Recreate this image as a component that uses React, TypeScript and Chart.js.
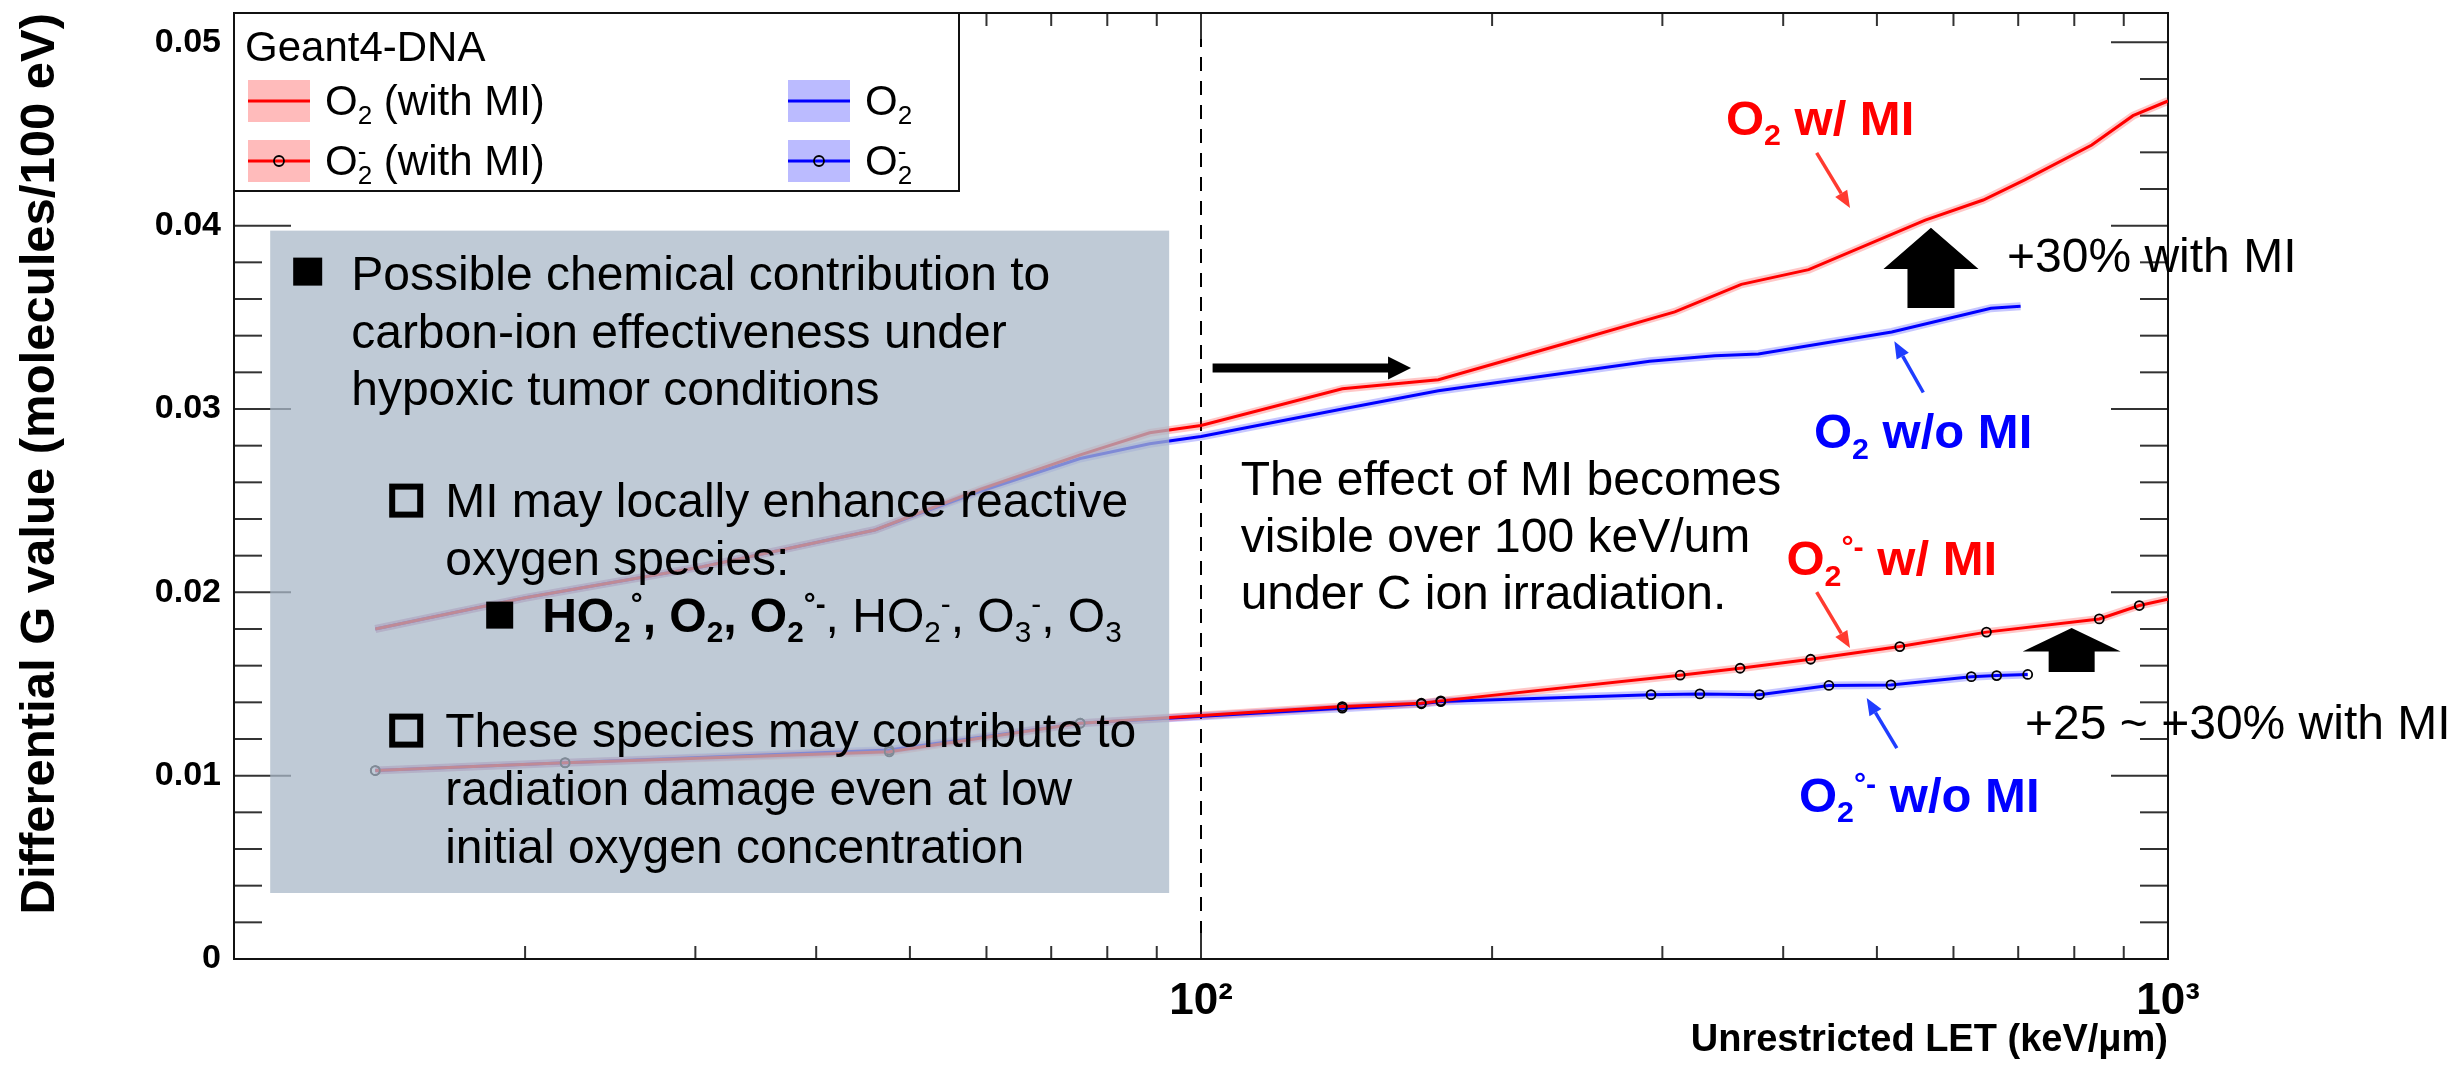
import { useEffect, useRef } from "react";
import { Chart, registerables } from "chart.js";

Chart.register(...registerables);

const FONT = '"Liberation Sans", Arial, Helvetica, sans-serif';
Chart.defaults.font.family = FONT;

// ---------------- axis ranges ----------------
const X_MIN = 10;
const X_MAX = 1000;
const Y_MIN = 0;
const Y_MAX = 0.0516;
const Y_MAJOR_STEP = 0.01;
const Y_MINOR_STEP = 0.002;
const X_TICK_LABELS: Record<number, string> = { 100: "10²", 1000: "10³" };
const X_TITLE = "Unrestricted LET (keV/μm)";
const Y_TITLE = "Differential G value (molecules/100 eV)";
const DASH_LET = 100;

// ---------------- data (LET in keV/um, G in molecules/100 eV) ----------------
// O2 (with MI)
const O2_MI_LET = [14, 20, 30.5, 46, 59, 75, 88.5, 100, 140, 176, 239, 309, 362, 425, 561, 644, 711, 834, 920, 1000];
const O2_MI_G = [0.018, 0.0197, 0.0214, 0.0234, 0.0256, 0.0275, 0.0287, 0.0291, 0.0311, 0.0316, 0.0336, 0.0353, 0.0368, 0.0376, 0.0403, 0.0414, 0.0425, 0.0444, 0.046, 0.0468];
// O2 (without MI)
const O2_LET = [14, 20, 30.5, 46, 59, 75, 88.5, 100, 140, 176, 291, 340, 377, 518, 656, 704];
const O2_G = [0.018, 0.0197, 0.0214, 0.0234, 0.0255, 0.0273, 0.0281, 0.0285, 0.03, 0.031, 0.0326, 0.0329, 0.033, 0.0342, 0.0355, 0.0356];
// O2- (with MI)
const O2M_MI_LET = [14, 22, 47.6, 75, 140, 169, 177, 313, 361, 427, 528, 649, 849, 934, 1000];
const O2M_MI_G = [0.01028, 0.0107, 0.0113, 0.01286, 0.01377, 0.01395, 0.01408, 0.01548, 0.01586, 0.01635, 0.01704, 0.01783, 0.01855, 0.01928, 0.01963];
// O2- (without MI)
const O2M_LET = [14, 22, 47.6, 75, 140, 169, 177, 292, 328, 378, 446, 517, 626, 665, 716];
const O2M_G = [0.01028, 0.01071, 0.0114, 0.01286, 0.01368, 0.01392, 0.01404, 0.01442, 0.01446, 0.01442, 0.01492, 0.01495, 0.0154, 0.01546, 0.01552];

// ---------------- annotation anchors (data coordinates) ----------------
const BOX_LET = [10.9, 92.7];
const BOX_G = [0.0036, 0.03973];
const RIGHT_ARROW = { from: 102.8, to: 164.9, g: 0.03224 };
const BIG_UP = { let: 568.7, tip: 0.03988, base: 0.03764, bottom: 0.03551 };
const SMALL_UP = { let: 795, tip: 0.01805, base: 0.01677, bottom: 0.01565 };
const EFFECT_TEXT = ["The effect of MI becomes", "visible over 100 keV/um", "under C ion irradiation."];
const EFFECT_POS = { let: 109.9, g: [0.02532, 0.02221, 0.0191] };
const PLUS30 = { text: "+30% with MI", let: 681.6, g: 0.03749 };
const PLUS25 = { text: "+25 ~ +30% with MI", let: 711.5, g: 0.01199 };

const RED = "#ff0000";
const BLUE = "#0000ff";

type Seg = { t: string; b?: boolean; sub?: boolean; sup?: boolean; stack?: boolean };

function drawRich(ctx: any, x: number, y: number, segs: Seg[], size: number, color: string, bold = false) {
  ctx.save();
  ctx.fillStyle = color;
  ctx.textBaseline = "alphabetic";
  ctx.textAlign = "left";
  let cx = x;
  let prevStart = x;
  for (const s of segs) {
    const small = s.sub || s.sup;
    const fs = small ? size * 0.62 : size;
    const isBold = s.b ?? bold;
    ctx.font = `${isBold ? "bold " : ""}${fs}px ${FONT}`;
    const dy = s.sub ? size * 0.22 : s.sup ? -size * 0.36 : 0;
    const w = ctx.measureText(s.t).width;
    const sx = s.stack ? prevStart : cx;
    ctx.fillText(s.t, sx, y + dy);
    if (s.stack) cx = Math.max(cx, sx + w);
    else {
      prevStart = cx;
      cx += w;
    }
  }
  ctx.restore();
}

function pointer(ctx: any, x0: number, y0: number, x1: number, y1: number, color: string) {
  const ang = Math.atan2(y1 - y0, x1 - x0);
  const hl = 17;
  const hw = 7;
  const bx = x1 - hl * Math.cos(ang);
  const by = y1 - hl * Math.sin(ang);
  ctx.save();
  ctx.strokeStyle = color;
  ctx.lineWidth = 3.5;
  ctx.beginPath();
  ctx.moveTo(x0, y0);
  ctx.lineTo(bx, by);
  ctx.stroke();
  ctx.fillStyle = color;
  ctx.beginPath();
  ctx.moveTo(x1, y1);
  ctx.lineTo(bx + hw * Math.sin(ang), by - hw * Math.cos(ang));
  ctx.lineTo(bx - hw * Math.sin(ang), by + hw * Math.cos(ang));
  ctx.closePath();
  ctx.fill();
  ctx.restore();
}

function blockUp(ctx: any, cx: number, tipY: number, baseY: number, botY: number, headW: number, shaftW: number) {
  ctx.save();
  ctx.fillStyle = "#000";
  ctx.beginPath();
  ctx.moveTo(cx, tipY);
  ctx.lineTo(cx + headW / 2, baseY);
  ctx.lineTo(cx + shaftW / 2, baseY);
  ctx.lineTo(cx + shaftW / 2, botY);
  ctx.lineTo(cx - shaftW / 2, botY);
  ctx.lineTo(cx - shaftW / 2, baseY);
  ctx.lineTo(cx - headW / 2, baseY);
  ctx.closePath();
  ctx.fill();
  ctx.restore();
}

function blockRight(ctx: any, x0: number, x1: number, cy: number) {
  const headL = 23;
  const headH = 11.5;
  const shaftH = 4.5;
  ctx.save();
  ctx.fillStyle = "#000";
  ctx.beginPath();
  ctx.moveTo(x1, cy);
  ctx.lineTo(x1 - headL, cy - headH);
  ctx.lineTo(x1 - headL, cy - shaftH);
  ctx.lineTo(x0, cy - shaftH);
  ctx.lineTo(x0, cy + shaftH);
  ctx.lineTo(x1 - headL, cy + shaftH);
  ctx.lineTo(x1 - headL, cy + headH);
  ctx.closePath();
  ctx.fill();
  ctx.restore();
}

function line(ctx: any, x0: number, y0: number, x1: number, y1: number) {
  ctx.beginPath();
  ctx.moveTo(x0, y0);
  ctx.lineTo(x1, y1);
  ctx.stroke();
}

const underlay = {
  id: "underlay",
  beforeDatasetsDraw(chart: any) {
    const { ctx, chartArea: a, scales } = chart;
    const xs = scales.x;
    const ys = scales.y;
    ctx.save();
    // dashed line at 100 keV/um
    const xd = xs.getPixelForValue(DASH_LET);
    ctx.strokeStyle = "#000";
    ctx.lineWidth = 2;
    ctx.setLineDash([14, 10]);
    line(ctx, xd, a.bottom, xd, a.top);
    ctx.setLineDash([]);
    // ticks (inward, ROOT style)
    ctx.strokeStyle = "#333";
    ctx.lineWidth = 2;
    const n = Math.floor((Y_MAX - Y_MIN) / Y_MINOR_STEP + 1e-6);
    const per = Math.round(Y_MAJOR_STEP / Y_MINOR_STEP);
    for (let i = 0; i <= n; i++) {
      const v = Y_MIN + i * Y_MINOR_STEP;
      const len = i % per === 0 ? 57 : 28;
      const py = ys.getPixelForValue(v);
      line(ctx, a.left, py, a.left + len, py);
      line(ctx, a.right, py, a.right - len, py);
    }
    for (let dec = X_MIN; dec < X_MAX; dec *= 10) {
      for (let k = 1; k <= 10; k++) {
        const v = k * dec;
        if (v > X_MAX) break;
        const len = k === 1 || k === 10 ? 26 : 13;
        const px = xs.getPixelForValue(v);
        line(ctx, px, a.bottom, px, a.bottom - len);
        line(ctx, px, a.top, px, a.top + len);
      }
    }
    // frame
    ctx.strokeStyle = "#111";
    ctx.lineWidth = 2;
    ctx.strokeRect(a.left, a.top, a.right - a.left, a.bottom - a.top);
    ctx.restore();
  },
};

const overlay = {
  id: "overlay",
  afterDatasetsDraw(chart: any) {
    const { ctx, chartArea: a, scales } = chart;
    const X = (v: number) => scales.x.getPixelForValue(v);
    const Y = (v: number) => scales.y.getPixelForValue(v);
    ctx.save();

    // ---- translucent text box ----
    const bx = X(BOX_LET[0]);
    const bx1 = X(BOX_LET[1]);
    const by = Y(BOX_G[1]);
    const by1 = Y(BOX_G[0]);
    ctx.fillStyle = "rgba(170,184,200,0.75)";
    ctx.fillRect(bx, by, bx1 - bx, by1 - by);

    const FS = 48;
    ctx.fillStyle = "#000";
    ctx.font = `${FS}px ${FONT}`;
    ctx.textBaseline = "alphabetic";
    ctx.textAlign = "left";
    // main bullet
    ctx.fillRect(bx + 23, by + 27, 29, 28);
    ctx.fillText("Possible chemical contribution to", bx + 81, by + 59);
    ctx.fillText("carbon-ion effectiveness under", bx + 81, by + 117);
    ctx.fillText("hypoxic tumor conditions", bx + 81, by + 174);
    // sub-bullet 1
    ctx.lineWidth = 6;
    ctx.strokeStyle = "#000";
    ctx.strokeRect(bx + 122, by + 256, 28, 28);
    ctx.fillText("MI may locally enhance reactive", bx + 175, by + 286);
    ctx.fillText("oxygen species:", bx + 175, by + 344);
    ctx.fillRect(bx + 216, by + 371, 27, 27);
    drawRich(
      ctx,
      bx + 272,
      by + 401,
      [
        { t: "HO", b: true },
        { t: "2", sub: true, b: true },
        { t: "°", sup: true, b: true },
        { t: ", O", b: true },
        { t: "2", sub: true, b: true },
        { t: ", O", b: true },
        { t: "2", sub: true, b: true },
        { t: "°-", sup: true, b: true },
        { t: ", HO" },
        { t: "2", sub: true },
        { t: "-", sup: true },
        { t: ", O" },
        { t: "3", sub: true },
        { t: "-", sup: true },
        { t: ", O" },
        { t: "3", sub: true },
      ],
      FS,
      "#000"
    );
    // sub-bullet 2
    ctx.strokeRect(bx + 122, by + 486, 28, 28);
    ctx.font = `${FS}px ${FONT}`;
    ctx.fillStyle = "#000";
    ctx.fillText("These species may contribute to", bx + 175, by + 516);
    ctx.fillText("radiation damage even at low", bx + 175, by + 574);
    ctx.fillText("initial oxygen concentration", bx + 175, by + 632);

    // ---- effect text ----
    ctx.font = `${FS}px ${FONT}`;
    EFFECT_TEXT.forEach((t, i) => ctx.fillText(t, X(EFFECT_POS.let), Y(EFFECT_POS.g[i])));
    ctx.fillText(PLUS30.text, X(PLUS30.let), Y(PLUS30.g));
    ctx.fillText(PLUS25.text, X(PLUS25.let), Y(PLUS25.g));

    // ---- black arrows ----
    blockRight(ctx, X(RIGHT_ARROW.from), X(RIGHT_ARROW.to), Y(RIGHT_ARROW.g));
    blockUp(ctx, X(BIG_UP.let), Y(BIG_UP.tip), Y(BIG_UP.base), Y(BIG_UP.bottom), 95, 47);
    blockUp(ctx, X(SMALL_UP.let), Y(SMALL_UP.tip), Y(SMALL_UP.base), Y(SMALL_UP.bottom), 98, 46);

    // ---- coloured labels ----
    const LS = 49;
    drawRich(ctx, X(349), Y(0.04497), [{ t: "O" }, { t: "2", sub: true }, { t: " w/ MI" }], LS, RED, true);
    drawRich(ctx, X(430.4), Y(0.02787), [{ t: "O" }, { t: "2", sub: true }, { t: " w/o MI" }], LS, BLUE, true);
    drawRich(ctx, X(403.1), Y(0.02096), [{ t: "O" }, { t: "2", sub: true }, { t: "°-", sup: true }, { t: " w/ MI" }], LS, RED, true);
    drawRich(ctx, X(415.3), Y(0.00804), [{ t: "O" }, { t: "2", sub: true }, { t: "°-", sup: true }, { t: " w/o MI" }], LS, BLUE, true);

    pointer(ctx, X(433.2), Y(0.04397), X(469), Y(0.04097), "#ff3b30");
    pointer(ctx, X(558.4), Y(0.0309), X(521.2), Y(0.03369), "#1f3dff");
    pointer(ctx, X(433.2), Y(0.02001), X(469), Y(0.01696), "#ff3b30");
    pointer(ctx, X(524.3), Y(0.0115), X(488), Y(0.01423), "#1f3dff");

    // ---- legend ----
    const lx = a.left;
    const ly = a.top;
    ctx.fillStyle = "#fff";
    ctx.fillRect(lx, ly, 725, 178);
    ctx.strokeStyle = "#111";
    ctx.lineWidth = 2;
    ctx.strokeRect(lx, ly, 725, 178);
    ctx.fillStyle = "#000";
    ctx.font = `42px ${FONT}`;
    ctx.fillText("Geant4-DNA", lx + 11, ly + 48);
    const entries = [
      { col: 0, row: 0, color: RED, fill: "rgba(255,60,60,0.35)", marker: false, segs: [{ t: "O" }, { t: "2", sub: true }, { t: " (with MI)" }] },
      { col: 0, row: 1, color: RED, fill: "rgba(255,60,60,0.35)", marker: true, segs: [{ t: "O" }, { t: "2", sub: true }, { t: "-", sup: true, stack: true }, { t: " (with MI)" }] },
      { col: 1, row: 0, color: BLUE, fill: "rgba(60,60,255,0.35)", marker: false, segs: [{ t: "O" }, { t: "2", sub: true }] },
      { col: 1, row: 1, color: BLUE, fill: "rgba(60,60,255,0.35)", marker: true, segs: [{ t: "O" }, { t: "2", sub: true }, { t: "-", sup: true, stack: true }] },
    ];
    for (const e of entries) {
      const sx = lx + (e.col === 0 ? 14 : 554);
      const sy = ly + (e.row === 0 ? 67 : 127);
      ctx.fillStyle = e.fill;
      ctx.fillRect(sx, sy, 62, 42);
      ctx.strokeStyle = e.color;
      ctx.lineWidth = 3;
      line(ctx, sx, sy + 21, sx + 62, sy + 21);
      if (e.marker) {
        ctx.strokeStyle = "#000";
        ctx.lineWidth = 1.8;
        ctx.beginPath();
        ctx.arc(sx + 31, sy + 21, 5, 0, Math.PI * 2);
        ctx.stroke();
      }
      drawRich(ctx, lx + (e.col === 0 ? 91 : 631), ly + (e.row === 0 ? 102 : 162), e.segs as Seg[], 42, "#000");
    }
    ctx.restore();
  },
};

function pts(xs: number[], ys: number[]) {
  return xs.map((x, i) => ({ x, y: ys[i] }));
}

export default function App() {
  const ref = useRef<HTMLCanvasElement | null>(null);
  useEffect(() => {
    if (!ref.current) return;
    const markerRadius = (n: number, skipLast: boolean) => (c: any) => (skipLast && c.dataIndex === n - 1 ? 0 : 4.5);
    const chart = new Chart(ref.current, {
      type: "line",
      data: {
        datasets: [
          { label: "O2 (with MI)", data: pts(O2_MI_LET, O2_MI_G), borderColor: RED, borderWidth: 3, pointRadius: 0, tension: 0 },
          { label: "O2", data: pts(O2_LET, O2_G), borderColor: BLUE, borderWidth: 3, pointRadius: 0, tension: 0 },
          {
            label: "O2- (with MI)",
            data: pts(O2M_MI_LET, O2M_MI_G),
            borderColor: RED,
            borderWidth: 3,
            pointRadius: markerRadius(O2M_MI_LET.length, true),
            pointBorderColor: "#000",
            pointBackgroundColor: "rgba(0,0,0,0)",
            pointBorderWidth: 1.8,
            tension: 0,
          },
          {
            label: "O2-",
            data: pts(O2M_LET, O2M_G),
            borderColor: BLUE,
            borderWidth: 3,
            pointRadius: markerRadius(O2M_LET.length, false),
            pointBorderColor: "#000",
            pointBackgroundColor: "rgba(0,0,0,0)",
            pointBorderWidth: 1.8,
            tension: 0,
          },
          { label: "band1", data: pts(O2_MI_LET, O2_MI_G), borderColor: "rgba(255,0,0,0.22)", borderWidth: 8, pointRadius: 0, tension: 0 },
          { label: "band2", data: pts(O2_LET, O2_G), borderColor: "rgba(0,0,255,0.22)", borderWidth: 8, pointRadius: 0, tension: 0 },
          { label: "band3", data: pts(O2M_MI_LET, O2M_MI_G), borderColor: "rgba(255,0,0,0.22)", borderWidth: 8, pointRadius: 0, tension: 0 },
          { label: "band4", data: pts(O2M_LET, O2M_G), borderColor: "rgba(0,0,255,0.22)", borderWidth: 8, pointRadius: 0, tension: 0 },
        ],
      },
      options: {
        responsive: false,
        animation: false,
        devicePixelRatio: 1,
        layout: { padding: { left: 0, right: 295, top: 13, bottom: 0 } },
        plugins: { legend: { display: false }, tooltip: { enabled: false }, title: { display: false } },
        scales: {
          x: {
            type: "logarithmic",
            min: X_MIN,
            max: X_MAX,
            grid: { display: false, drawTicks: false },
            border: { display: false },
            ticks: {
              autoSkip: false,
              maxRotation: 0,
              minRotation: 0,
              padding: 16,
              color: "#000",
              font: { family: FONT, size: 44, weight: "bold" },
              callback: (v: any) => {
                const key = Object.keys(X_TICK_LABELS).find((k) => Math.abs(Number(k) - Number(v)) < 1e-6);
                return key ? X_TICK_LABELS[Number(key)] : "";
              },
            },
            title: {
              display: true,
              text: X_TITLE,
              align: "end",
              color: "#000",
              font: { family: FONT, size: 38, weight: "bold" },
              padding: { top: 0, bottom: 4 },
            },
            afterFit: (s: any) => {
              s.height = 108;
              s.paddingLeft = 0;
              s.paddingRight = 0;
            },
          } as any,
          y: {
            type: "linear",
            min: Y_MIN,
            max: Y_MAX,
            grid: { display: false, drawTicks: false },
            border: { display: false },
            ticks: {
              stepSize: Y_MAJOR_STEP,
              includeBounds: false,
              padding: 13,
              color: "#000",
              font: { family: FONT, size: 34, weight: "bold" },
              callback: (v: any) => (Math.abs(Number(v)) < 1e-9 ? "0" : Number(v).toFixed(2)),
            },
            title: {
              display: true,
              text: Y_TITLE,
              align: "end",
              color: "#000",
              font: { family: FONT, size: 49, weight: "bold" },
              padding: { top: 11, bottom: 0 },
            },
            afterFit: (s: any) => {
              s.width = 234;
              s.paddingTop = 0;
              s.paddingBottom = 0;
            },
          } as any,
        },
      },
      plugins: [underlay, overlay],
    } as any);
    return () => chart.destroy();
  }, []);
  return (
    <div style={{ position: "fixed", left: 0, top: 0, width: 2463, height: 1067, background: "#fff" }}>
      <canvas ref={ref} width={2463} height={1067} style={{ width: 2463, height: 1067, display: "block" }} />
    </div>
  );
}
